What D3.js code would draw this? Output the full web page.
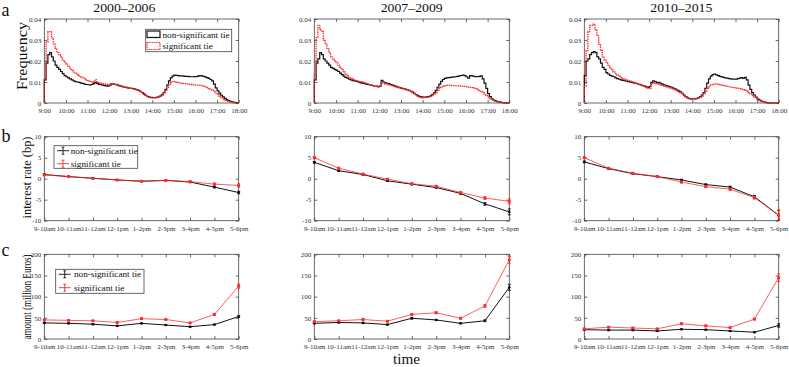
<!DOCTYPE html>
<html><head><meta charset="utf-8">
<script src="https://cdn.jsdelivr.net/npm/d3@7/dist/d3.min.js"></script>
<style>
body{margin:0;background:#fff;}
svg text{font-family:"Liberation Serif","Times New Roman",serif;}
</style></head>
<body><svg id="c" width="789" height="367"></svg>
<script>
// ---------- data ----------
const periods = ["2000\u20132006", "2007\u20132009", "2010\u20132015"];
const hourTicks = ["9:00","10:00","11:00","12:00","13:00","14:00","15:00","16:00","17:00","18:00"];
const seriesNames = ["non-significant tie", "significant tie"];
const slotLabels = ["9-10am","10-11am","11-12am","12-1pm","1-2pm","2-3pm","3-4pm","4-5pm","5-6pm"];
const freqTicks = [0, 0.01, 0.02, 0.03, 0.04];
const rateTicks = [-10, -5, 0, 5, 10];
const amountTicks = [0, 50, 100, 150, 200];

// 5-minute bins, 9:00 - 18:00
const freqNonSig2000 = [
 0.011,0.019,0.023,0.024,0.022,0.020,0.018,0.017,0.016,0.015,0.014,0.013,
 0.0125,0.012,0.0115,0.011,0.0105,0.0102,0.010,0.0098,0.0095,0.0093,0.009,0.0088,
 0.0087,0.0086,0.0088,0.0092,0.0097,0.0093,0.0089,0.0087,0.0085,0.0083,0.0082,0.0080,
 0.0085,0.0091,0.0090,0.0088,0.0086,0.0083,0.0080,0.0078,0.0076,0.0074,0.0072,0.0071,
 0.0070,0.0068,0.0066,0.0064,0.0060,0.0055,0.0050,0.0043,0.0036,0.0031,0.0028,0.0027,
 0.0026,0.0026,0.0027,0.0029,0.0033,0.0040,0.0050,0.0065,0.0085,0.0105,0.0120,0.0128,
 0.0133,0.0132,0.0130,0.0129,0.0129,0.0128,0.0127,0.0127,0.0126,0.0125,0.0125,0.0126,
 0.0125,0.0128,0.0130,0.0129,0.0127,0.0124,0.0121,0.0117,0.0112,0.0105,0.0090,0.0072,
 0.0058,0.0047,0.0037,0.0029,0.0022,0.0016,0.0011,0.0008,0.0005,0.0003,0.0002,0.0001];
const freqSig2000 = [
 0.012,0.029,0.034,0.034,0.031,0.028,0.026,0.024,0.023,0.022,0.0205,0.0195,
 0.0185,0.0175,0.0165,0.0155,0.0148,0.0142,0.0135,0.013,0.0125,0.012,0.0115,0.011,
 0.0107,0.0104,0.0102,0.0100,0.0110,0.0098,0.0095,0.0093,0.0092,0.0090,0.0089,0.0088,
 0.0087,0.0093,0.0092,0.0090,0.0088,0.0085,0.0082,0.0079,0.0076,0.0074,0.0072,0.0071,
 0.0070,0.0068,0.0066,0.0063,0.0059,0.0054,0.0048,0.0041,0.0034,0.0029,0.0026,0.0025,
 0.0025,0.0025,0.0026,0.0028,0.0032,0.0038,0.0047,0.0060,0.0075,0.0088,0.0097,0.0102,
 0.0103,0.0100,0.0098,0.0096,0.0095,0.0093,0.0092,0.0090,0.0089,0.0088,0.0087,0.0086,
 0.0085,0.0085,0.0084,0.0082,0.0080,0.0077,0.0074,0.0070,0.0066,0.0061,0.0055,0.0048,
 0.0040,0.0033,0.0026,0.0020,0.0015,0.0011,0.0008,0.0005,0.0003,0.0002,0.0001,0.0001];
const freqNonSig2007 = [
 0.011,0.019,0.021,0.024,0.023,0.021,0.020,0.019,0.018,0.017,0.0165,0.016,
 0.0155,0.015,0.0142,0.0135,0.0128,0.0122,0.0118,0.0113,0.011,0.0107,0.0105,0.0103,
 0.0100,0.0097,0.0095,0.0093,0.0091,0.0089,0.0087,0.0085,0.0083,0.0081,0.0080,0.0078,
 0.0080,0.0108,0.0100,0.0096,0.0094,0.0092,0.0088,0.0085,0.0082,0.0079,0.0076,0.0073,
 0.0070,0.0068,0.0066,0.0063,0.0060,0.0056,0.0052,0.0046,0.0040,0.0035,0.0031,0.0029,
 0.0028,0.0028,0.0029,0.0031,0.0034,0.0040,0.0048,0.0060,0.0075,0.0090,0.0103,0.0112,
 0.0117,0.0120,0.0121,0.0122,0.0123,0.0124,0.0125,0.0127,0.0129,0.0131,0.0133,0.0130,
 0.0125,0.0118,0.0130,0.0129,0.0127,0.0126,0.0125,0.0127,0.0129,0.0115,0.0095,0.0070,
 0.0045,0.0030,0.0020,0.0014,0.0010,0.0007,0.0005,0.0003,0.0002,0.0001,0.0001,0.0000];
const freqSig2007 = [
 0.014,0.031,0.037,0.035,0.034,0.030,0.028,0.026,0.024,0.022,0.021,0.020,
 0.0195,0.018,0.017,0.016,0.0148,0.0138,0.013,0.0122,0.0117,0.0112,0.0109,0.0106,
 0.0104,0.0102,0.0100,0.0097,0.0095,0.0092,0.0089,0.0086,0.0084,0.0081,0.0079,0.0077,
 0.0078,0.0097,0.0093,0.0090,0.0088,0.0086,0.0083,0.0080,0.0077,0.0075,0.0073,0.0071,
 0.0069,0.0067,0.0065,0.0062,0.0059,0.0055,0.0050,0.0044,0.0037,0.0032,0.0028,0.0026,
 0.0025,0.0026,0.0027,0.0029,0.0032,0.0036,0.0042,0.0050,0.0060,0.0070,0.0077,0.0081,
 0.0083,0.0085,0.0085,0.0084,0.0083,0.0083,0.0082,0.0082,0.0081,0.0080,0.0080,0.0079,
 0.0078,0.0076,0.0074,0.0073,0.0071,0.0068,0.0065,0.0060,0.0055,0.0050,0.0043,0.0035,
 0.0028,0.0020,0.0015,0.0011,0.0008,0.0006,0.0004,0.0003,0.0002,0.0001,0.0001,0.0000];
const freqNonSig2010 = [
 0.013,0.020,0.021,0.023,0.024,0.0245,0.024,0.022,0.021,0.019,0.017,0.016,
 0.0145,0.0138,0.0132,0.0128,0.0125,0.0120,0.0116,0.0113,0.0110,0.0108,0.0106,0.0104,
 0.0102,0.0100,0.0098,0.0096,0.0094,0.0092,0.0089,0.0086,0.0083,0.0080,0.0077,0.0074,
 0.0078,0.0098,0.0105,0.0102,0.0096,0.0098,0.0094,0.0090,0.0086,0.0083,0.0080,0.0078,
 0.0075,0.0071,0.0067,0.0063,0.0058,0.0053,0.0046,0.0038,0.0030,0.0024,0.0021,0.0020,
 0.0020,0.0020,0.0022,0.0025,0.0030,0.0038,0.0050,0.0070,0.0095,0.0115,0.0128,0.0135,
 0.0138,0.0134,0.0130,0.0127,0.0124,0.0122,0.0120,0.0118,0.0116,0.0115,0.0114,0.0114,
 0.0114,0.0116,0.0118,0.0121,0.0117,0.0122,0.0110,0.0085,0.0065,0.0050,0.0038,0.0028,
 0.0020,0.0014,0.0009,0.0006,0.0004,0.0002,0.0001,0.0001,0.0000,0.0000,0.0000,0.0000];
const freqSig2010 = [
 0.008,0.025,0.034,0.037,0.037,0.0375,0.035,0.032,0.028,0.025,0.022,0.0205,
 0.0195,0.018,0.0168,0.0158,0.0148,0.014,0.0133,0.0127,0.0122,0.0117,0.0113,0.011,
 0.0107,0.0104,0.0101,0.0098,0.0095,0.0092,0.0089,0.0086,0.0083,0.0079,0.0075,0.0070,
 0.0068,0.0090,0.0100,0.0095,0.0092,0.0090,0.0087,0.0084,0.0081,0.0078,0.0075,0.0072,
 0.0069,0.0066,0.0062,0.0058,0.0054,0.0049,0.0043,0.0035,0.0028,0.0023,0.0020,0.0019,
 0.0019,0.0020,0.0021,0.0023,0.0027,0.0033,0.0042,0.0055,0.0068,0.0078,0.0085,0.0089,
 0.0091,0.0091,0.0090,0.0088,0.0086,0.0084,0.0082,0.0080,0.0078,0.0076,0.0074,0.0072,
 0.0071,0.0070,0.0068,0.0066,0.0063,0.0060,0.0056,0.0050,0.0043,0.0036,0.0029,0.0023,
 0.0017,0.0012,0.0008,0.0005,0.0003,0.0002,0.0001,0.0001,0.0000,0.0000,0.0000,0.0000];

// interest rate (bp)
const rateNonSig2000 = [1.0, 0.5, 0.1, -0.3, -0.6, -0.4, -0.8, -2.0, -3.3];
const rateSig2000    = [0.9, 0.5, 0.1, -0.3, -0.6, -0.4, -0.7, -1.3, -1.6];
const rateNonSig2007 = [3.9, 1.9, 1.0, -0.5, -1.3, -2.1, -3.5, -6.0, -7.9];
const rateSig2007    = [5.0, 2.5, 1.1, -0.1, -1.2, -1.8, -3.3, -4.6, -5.4];
const rateNonSig2010 = [4.0, 2.4, 1.2, 0.5, -0.3, -1.4, -2.0, -4.3, -8.7];
const rateSig2010    = [5.0, 2.5, 1.3, 0.5, -0.8, -1.9, -2.5, -4.5, -8.7];
const rateErrNonSig2000 = [0.15,0.1,0.1,0.1,0.1,0.1,0.15,0.2,0.3];
const rateErrSig2000    = [0.2,0.15,0.1,0.1,0.1,0.1,0.15,0.25,0.4];
const rateErrNonSig2007 = [0.2,0.15,0.15,0.15,0.15,0.15,0.2,0.3,0.7];
const rateErrSig2007    = [0.25,0.2,0.15,0.15,0.15,0.2,0.2,0.3,0.6];
const rateErrNonSig2010 = [0.2,0.15,0.1,0.1,0.15,0.15,0.2,0.3,1.2];
const rateErrSig2010    = [0.2,0.15,0.15,0.1,0.2,0.2,0.25,0.35,1.2];

// amount (million Euros)
const amtNonSig2000 = [38, 37, 35, 31, 37, 33, 29, 34, 53];
const amtSig2000    = [45, 44, 43, 39, 48, 46, 38, 58, 125];
const amtNonSig2007 = [37, 39, 38, 34, 49, 45, 37, 43, 122];
const amtSig2007    = [41, 43, 46, 42, 58, 62, 49, 78, 187];
const amtNonSig2010 = [22, 21, 21, 19, 23, 22, 19, 16, 32];
const amtSig2010    = [24, 28, 26, 24, 36, 31, 27, 47, 145];
const amtErrNonSig2000 = [1,1,1,1,1,1,1,1,2];
const amtErrSig2000    = [1,1,1,1,2,1,1,2,5];
const amtErrNonSig2007 = [1,1,1,1,2,1,1,2,7];
const amtErrSig2007    = [1,1,2,1,2,2,2,3,8];
const amtErrNonSig2010 = [1,1,1,1,1,1,1,1,4];
const amtErrSig2010    = [1,1,1,1,2,2,1,2,9];

// ---------- layout ----------
const cols = [[44.3, 238.7], [314.3, 509.3], [584.3, 778.7]];
const rowA = [19, 103], rowB = [136.7, 220.7], rowC = [254.3, 339];
const RED = "#ff2a2a", BLK = "#111";
const FRAME = "#444", TXT = "#333";

const svg = d3.select("#c");

function frame(g, x0, x1, y0, y1) {
  g.append("rect").attr("x", x0).attr("y", y0).attr("width", x1 - x0).attr("height", y1 - y0)
    .attr("fill", "none").attr("stroke", FRAME).attr("stroke-width", 0.8);
}
function styleAxis(sel) {
  sel.select(".domain").remove();
  sel.selectAll(".tick line").attr("stroke", FRAME).attr("stroke-width", 0.8);
  sel.selectAll(".tick text").attr("fill", TXT).attr("font-size", 7)
     .attr("font-family", "Liberation Serif, serif");
}
function axes(x, y, xTickVals, xFmt, yTickVals, yFmt, x0, x1, y0, y1) {
  const bx = svg.append("g").attr("transform", `translate(0,${y1})`)
    .call(d3.axisBottom(x).tickValues(xTickVals).tickFormat(xFmt).tickSizeInner(-3).tickSizeOuter(0).tickPadding(5));
  styleAxis(bx);
  const tx = svg.append("g").attr("transform", `translate(0,${y0})`)
    .call(d3.axisTop(x).tickValues(xTickVals).tickFormat("").tickSizeInner(-3).tickSizeOuter(0));
  styleAxis(tx);
  const ly = svg.append("g").attr("transform", `translate(${x0},0)`)
    .call(d3.axisLeft(y).tickValues(yTickVals).tickFormat(yFmt).tickSizeInner(-3).tickSizeOuter(0).tickPadding(3));
  styleAxis(ly);
  const ry = svg.append("g").attr("transform", `translate(${x1},0)`)
    .call(d3.axisRight(y).tickValues(yTickVals).tickFormat("").tickSizeInner(-3).tickSizeOuter(0));
  styleAxis(ry);
}

const freqData = [[freqNonSig2000, freqSig2000], [freqNonSig2007, freqSig2007], [freqNonSig2010, freqSig2010]];
const rateData = [[rateNonSig2000, rateSig2000, rateErrNonSig2000, rateErrSig2000],
                  [rateNonSig2007, rateSig2007, rateErrNonSig2007, rateErrSig2007],
                  [rateNonSig2010, rateSig2010, rateErrNonSig2010, rateErrSig2010]];
const amtData = [[amtNonSig2000, amtSig2000, amtErrNonSig2000, amtErrSig2000],
                 [amtNonSig2007, amtSig2007, amtErrNonSig2007, amtErrSig2007],
                 [amtNonSig2010, amtSig2010, amtErrNonSig2010, amtErrSig2010]];
const titleX = [124.3, 411.7, 681.3];

// ---------- row a: frequency histograms ----------
cols.forEach(([x0, x1], ci) => {
  const [y0, y1] = rowA;
  const x = d3.scaleLinear().domain([0, 540]).range([x0, x1]);
  const y = d3.scaleLinear().domain([0, 0.04]).range([y1, y0]);
  frame(svg, x0, x1, y0, y1);
  axes(x, y, d3.range(0, 541, 60), (d, i) => hourTicks[i], freqTicks, d => d === 0 ? "0" : d3.format(".2f")(d), x0, x1, y0, y1);
  const line = d3.line().x(d => x(d[0])).y(d => y(d[1])).curve(d3.curveStepAfter);
  freqData[ci].forEach((vals, si) => {
    const pts = [[0, 0]].concat(vals.map((v, i) => [i * 5, v]));
    pts.push([540, vals[vals.length - 1]]);
    svg.append("path").attr("d", line(pts)).attr("fill", "none")
      .attr("stroke", si === 0 ? BLK : RED).attr("stroke-width", si === 0 ? 1.2 : 1.3)
      .attr("stroke-dasharray", si === 0 ? null : "1.5,0.8");
  });
  svg.append("text").attr("x", titleX[ci]).attr("y", 11.5).attr("text-anchor", "middle")
    .attr("font-size", 13).attr("fill", "#111").attr("textLength", 62).attr("lengthAdjust", "spacingAndGlyphs")
    .text(periods[ci]);
});

// legend a
{
  const g = svg.append("g");
  g.append("rect").attr("x", 145.7).attr("y", 29.3).attr("width", 86).attr("height", 22.4)
    .attr("fill", "#fff").attr("stroke", FRAME).attr("stroke-width", 0.8);
  g.append("rect").attr("x", 147).attr("y", 31).attr("width", 13).attr("height", 6.5)
    .attr("fill", "none").attr("stroke", BLK).attr("stroke-width", 1.2);
  g.append("rect").attr("x", 147).attr("y", 42.5).attr("width", 13).attr("height", 7)
    .attr("fill", "none").attr("stroke", RED).attr("stroke-width", 1.2).attr("stroke-dasharray", "1.5,0.8");
  g.append("text").attr("x", 162.5).attr("y", 37.5).attr("font-size", 9.2).attr("fill", "#111").text(seriesNames[0]);
  g.append("text").attr("x", 162.5).attr("y", 49.3).attr("font-size", 9.2).attr("fill", "#111").text(seriesNames[1]);
}

// ---------- rows b, c: line charts with error bars ----------
function linePanel(row, data, yDom, yTicks) {
  cols.forEach(([x0, x1], ci) => {
    const [y0, y1] = row;
    const x = d3.scalePoint().domain(slotLabels).range([x0, x1]).padding(0);
    const y = d3.scaleLinear().domain(yDom).range([y1, y0]);
    frame(svg, x0, x1, y0, y1);
    axes(x, y, slotLabels, d => d, yTicks, d => String(d), x0, x1, y0, y1);
    const [ns, s, ens, es] = data[ci];
    [[ns, ens, BLK], [s, es, RED]].forEach(([vals, errs, col], si) => {
      const pts = vals.map((v, i) => [slotLabels[i], v, errs[i]]);
      const line = d3.line().x(d => x(d[0])).y(d => y(d[1]));
      svg.append("path").attr("d", line(pts)).attr("fill", "none").attr("stroke", col)
        .attr("stroke-width", si === 0 ? 1 : 0.9).attr("stroke-opacity", si === 0 ? 1 : 0.85);
      const g = svg.append("g");
      pts.forEach(d => {
        const cx = x(d[0]), ya = y(d[1] + d[2]), yb = y(d[1] - d[2]);
        g.append("line").attr("x1", cx).attr("x2", cx).attr("y1", ya).attr("y2", yb).attr("stroke", col).attr("stroke-width", 0.9);
        g.append("line").attr("x1", cx - 1.5).attr("x2", cx + 1.5).attr("y1", ya).attr("y2", ya).attr("stroke", col).attr("stroke-width", 0.9);
        g.append("line").attr("x1", cx - 1.5).attr("x2", cx + 1.5).attr("y1", yb).attr("y2", yb).attr("stroke", col).attr("stroke-width", 0.9);
        if (si === 0) g.append("circle").attr("cx", cx).attr("cy", y(d[1])).attr("r", 1.3).attr("fill", col);
        else g.append("rect").attr("x", cx - 1.4).attr("y", y(d[1]) - 1.4).attr("width", 2.8).attr("height", 2.8).attr("fill", col);
      });
    });
  });
}
linePanel(rowB, rateData, [-10, 10], rateTicks);
linePanel(rowC, amtData, [0, 200], amountTicks);

function lineLegend(bx, by, bw, bh, y1, y2, tx, b1, b2) {
  const g = svg.append("g");
  g.append("rect").attr("x", bx).attr("y", by).attr("width", bw).attr("height", bh)
    .attr("fill", "#fff").attr("stroke", FRAME).attr("stroke-width", 0.8);
  [[y1, BLK, b1, seriesNames[0]], [y2, RED, b2, seriesNames[1]]].forEach(([yy, col, base, name]) => {
    const cx = bx + 9;
    g.append("line").attr("x1", bx + 3).attr("x2", bx + 15).attr("y1", yy).attr("y2", yy).attr("stroke", col).attr("stroke-width", 0.9);
    g.append("line").attr("x1", cx).attr("x2", cx).attr("y1", yy - 3.5).attr("y2", yy + 3.5).attr("stroke", col).attr("stroke-width", 0.9);
    g.append("line").attr("x1", cx - 1.3).attr("x2", cx + 1.3).attr("y1", yy - 3.5).attr("y2", yy - 3.5).attr("stroke", col).attr("stroke-width", 0.9);
    g.append("line").attr("x1", cx - 1.3).attr("x2", cx + 1.3).attr("y1", yy + 3.5).attr("y2", yy + 3.5).attr("stroke", col).attr("stroke-width", 0.9);
    g.append("text").attr("x", tx).attr("y", base).attr("font-size", 9.2).attr("fill", "#111").text(name);
  });
}
lineLegend(54, 145.7, 83.7, 22.6, 150.7, 163.7, 70.7, 153.8, 166.5);
lineLegend(55.7, 269.3, 88.3, 24, 274.3, 287.7, 74, 277.3, 290.5);

// ---------- panel letters & axis titles ----------
const sans = "Liberation Sans, Arial, sans-serif";
svg.append("text").attr("x", 1.5).attr("y", 16).attr("font-size", 18).attr("font-family", sans).attr("fill", "#111").text("a");
svg.append("text").attr("x", 1.5).attr("y", 141.5).attr("font-size", 18).attr("font-family", sans).attr("fill", "#111").text("b");
svg.append("text").attr("x", 1.5).attr("y", 256).attr("font-size", 18).attr("font-family", sans).attr("fill", "#111").text("c");

function yTitle(txt, cx, cy, size, len) {
  svg.append("text").attr("transform", `translate(${cx},${cy}) rotate(-90)`).attr("text-anchor", "middle")
    .attr("font-size", size).attr("fill", "#111").attr("textLength", len).attr("lengthAdjust", "spacingAndGlyphs").text(txt);
}
yTitle("Frequency", 27, 56, 15.5, 68);
yTitle("interest rate (bp)", 30.5, 177.5, 12.5, 82);
yTitle("amount (million Euros)", 30.5, 297, 12, 85);
svg.append("text").attr("x", 406.5).attr("y", 363.5).attr("text-anchor", "middle").attr("font-size", 14)
  .attr("fill", "#111").attr("textLength", 27).attr("lengthAdjust", "spacingAndGlyphs").text("time");
</script></body></html>
